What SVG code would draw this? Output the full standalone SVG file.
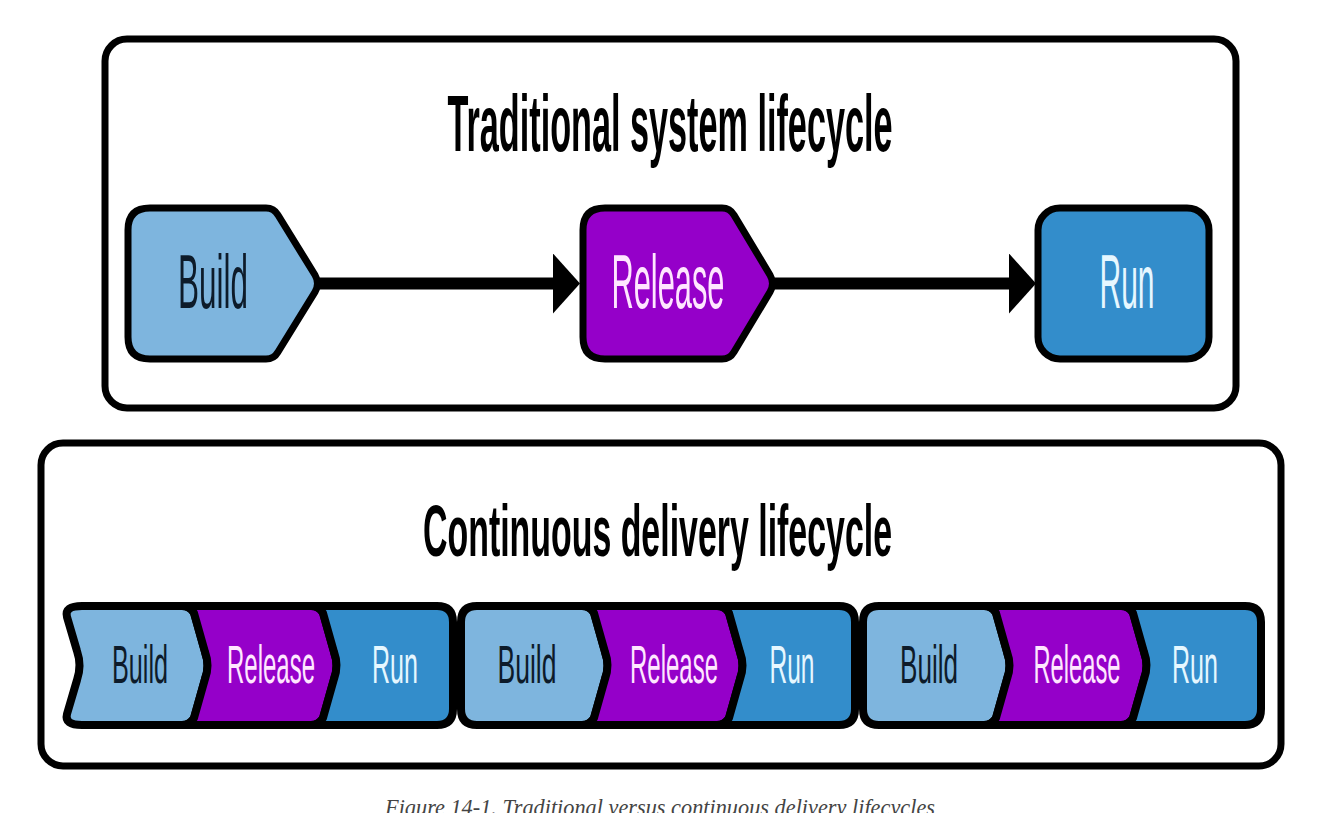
<svg xmlns="http://www.w3.org/2000/svg" width="1324" height="813" viewBox="0 0 1324 813">
<style>
.frame{fill:#ffffff;stroke:#000000;stroke-width:7}
.node{stroke:#000000;stroke-width:7;stroke-linejoin:round}
.row{stroke-width:8}
.build{fill:#7eb5de}
.release{fill:#9500c9}
.run{fill:#338dcb}
.t{font-family:"Liberation Sans Narrow","Liberation Sans","DejaVu Sans Condensed",sans-serif;text-anchor:middle}
.title{font-size:80px;font-weight:bold;fill:#000}
.lb{fill:#0d1b2a}
.lr{fill:#ffe6ff}
.ln{fill:#e6f7ff}
.big{font-size:76px}
.small{font-size:54px}
.conn{stroke:#000;stroke-width:12;fill:none}
.cap{font-family:"Liberation Serif","DejaVu Serif",serif;font-style:italic;font-size:24px;fill:#444;text-anchor:middle}
</style>
<defs>
<marker id="ah" markerUnits="userSpaceOnUse" markerWidth="28" markerHeight="60" refX="15" refY="30" orient="auto">
<path d="M0,0 L27,30 L0,60 Z" fill="#000"/>
</marker>
</defs>
<rect width="1324" height="813" fill="#ffffff"/>

<g id="traditional-frame">
<rect class="frame" x="105" y="39" width="1131" height="369" rx="22"/>
<text class="t title" x="670" y="151" textLength="445" lengthAdjust="spacingAndGlyphs">Traditional system lifecycle</text>
</g>

<g id="connectors">
<path class="conn" d="M320,283.5 L568,283.5" marker-end="url(#ah)"/>
<path class="conn" d="M775,283.5 L1024,283.5" marker-end="url(#ah)"/>
</g>

<g id="t-build">
<path class="node build" d="M150,208 L266,208 Q274,208 278,215 L315,275 Q320,283.5 315,292 L278,352 Q274,359 266,359 L150,359 Q128,359 128,337 L128,230 Q128,208 150,208 Z"/>
<text class="t big lb" x="213" y="308" textLength="70" lengthAdjust="spacingAndGlyphs">Build</text>
</g>
<g id="t-release">
<path class="node release" d="M605,208 L722,208 Q730,208 734,215 L770,275 Q775,283.5 770,292 L734,352 Q730,359 722,359 L605,359 Q583,359 583,337 L583,230 Q583,208 605,208 Z"/>
<text class="t big lr" x="668" y="308" textLength="113" lengthAdjust="spacingAndGlyphs">Release</text>
</g>
<g id="t-run">
<rect class="node run" x="1038" y="208" width="171" height="151" rx="22"/>
<text class="t big ln" x="1127" y="308" textLength="55" lengthAdjust="spacingAndGlyphs">Run</text>
</g>

<g id="cd-frame">
<rect class="frame" x="41" y="443" width="1240" height="323" rx="22"/>
<text class="t title" x="657.5" y="556" style="font-size:72px" textLength="469" lengthAdjust="spacingAndGlyphs">Continuous delivery lifecycle</text>
</g>

<g id="cd-build-1">
<path class="node row build" d="M82,606 L182,606 Q190,606 194,613 L205,652 Q210,665.5 205,679 L194,718 Q190,725 182,725 L82,725 Q64,725 67,714 L77,680 Q82,665.5 77,651 L67,617 Q64,606 82,606 Z"/>
<text class="t small lb" x="140" y="683" textLength="56" lengthAdjust="spacingAndGlyphs">Build</text>
</g>
<g id="cd-release-1">
<path class="node row release" d="M182,606 L311,606 Q319,606 323,613 L334,652 Q339,665.5 334,679 L323,718 Q319,725 311,725 L182,725 Q190,725 194,718 L205,679 Q210,665.5 205,652 L194,613 Q190,606 182,606 Z"/>
<text class="t small lr" x="271" y="683" textLength="88" lengthAdjust="spacingAndGlyphs">Release</text>
</g>
<g id="cd-run-1">
<path class="node row run" d="M311,606 L437,606 Q453,606 453,622 L453,709 Q453,725 437,725 L311,725 Q319,725 323,718 L334,679 Q339,665.5 334,652 L323,613 Q319,606 311,606 Z"/>
<text class="t small ln" x="395" y="683" textLength="46" lengthAdjust="spacingAndGlyphs">Run</text>
</g>
<g id="cd-build-2">
<path class="node row build" d="M477,606 L582,606 Q590,606 594,613 L605,652 Q610,665.5 605,679 L594,718 Q590,725 582,725 L477,725 Q461,725 461,709 L461,622 Q461,606 477,606 Z"/>
<text class="t small lb" x="527" y="683" textLength="59" lengthAdjust="spacingAndGlyphs">Build</text>
</g>
<g id="cd-release-2">
<path class="node row release" d="M582,606 L717,606 Q725,606 729,613 L740,652 Q745,665.5 740,679 L729,718 Q725,725 717,725 L582,725 Q590,725 594,718 L605,679 Q610,665.5 605,652 L594,613 Q590,606 582,606 Z"/>
<text class="t small lr" x="674" y="683" textLength="88" lengthAdjust="spacingAndGlyphs">Release</text>
</g>
<g id="cd-run-2">
<path class="node row run" d="M717,606 L839,606 Q855,606 855,622 L855,709 Q855,725 839,725 L717,725 Q725,725 729,718 L740,679 Q745,665.5 740,652 L729,613 Q725,606 717,606 Z"/>
<text class="t small ln" x="792" y="683" textLength="45" lengthAdjust="spacingAndGlyphs">Run</text>
</g>
<g id="cd-build-3">
<path class="node row build" d="M879,606 L984,606 Q992,606 996,613 L1007,652 Q1012,665.5 1007,679 L996,718 Q992,725 984,725 L879,725 Q863,725 863,709 L863,622 Q863,606 879,606 Z"/>
<text class="t small lb" x="929" y="683" textLength="58" lengthAdjust="spacingAndGlyphs">Build</text>
</g>
<g id="cd-release-3">
<path class="node row release" d="M984,606 L1121,606 Q1129,606 1133,613 L1144,652 Q1149,665.5 1144,679 L1133,718 Q1129,725 1121,725 L984,725 Q992,725 996,718 L1007,679 Q1012,665.5 1007,652 L996,613 Q992,606 984,606 Z"/>
<text class="t small lr" x="1077" y="683" textLength="87" lengthAdjust="spacingAndGlyphs">Release</text>
</g>
<g id="cd-run-3">
<path class="node row run" d="M1121,606 L1245,606 Q1261,606 1261,622 L1261,709 Q1261,725 1245,725 L1121,725 Q1129,725 1133,718 L1144,679 Q1149,665.5 1144,652 L1133,613 Q1129,606 1121,606 Z"/>
<text class="t small ln" x="1195" y="683" textLength="46" lengthAdjust="spacingAndGlyphs">Run</text>
</g>

<g id="caption">
<text class="cap" x="660" y="815" textLength="550" lengthAdjust="spacingAndGlyphs">Figure 14-1. Traditional versus continuous delivery lifecycles</text>
</g>
</svg>
